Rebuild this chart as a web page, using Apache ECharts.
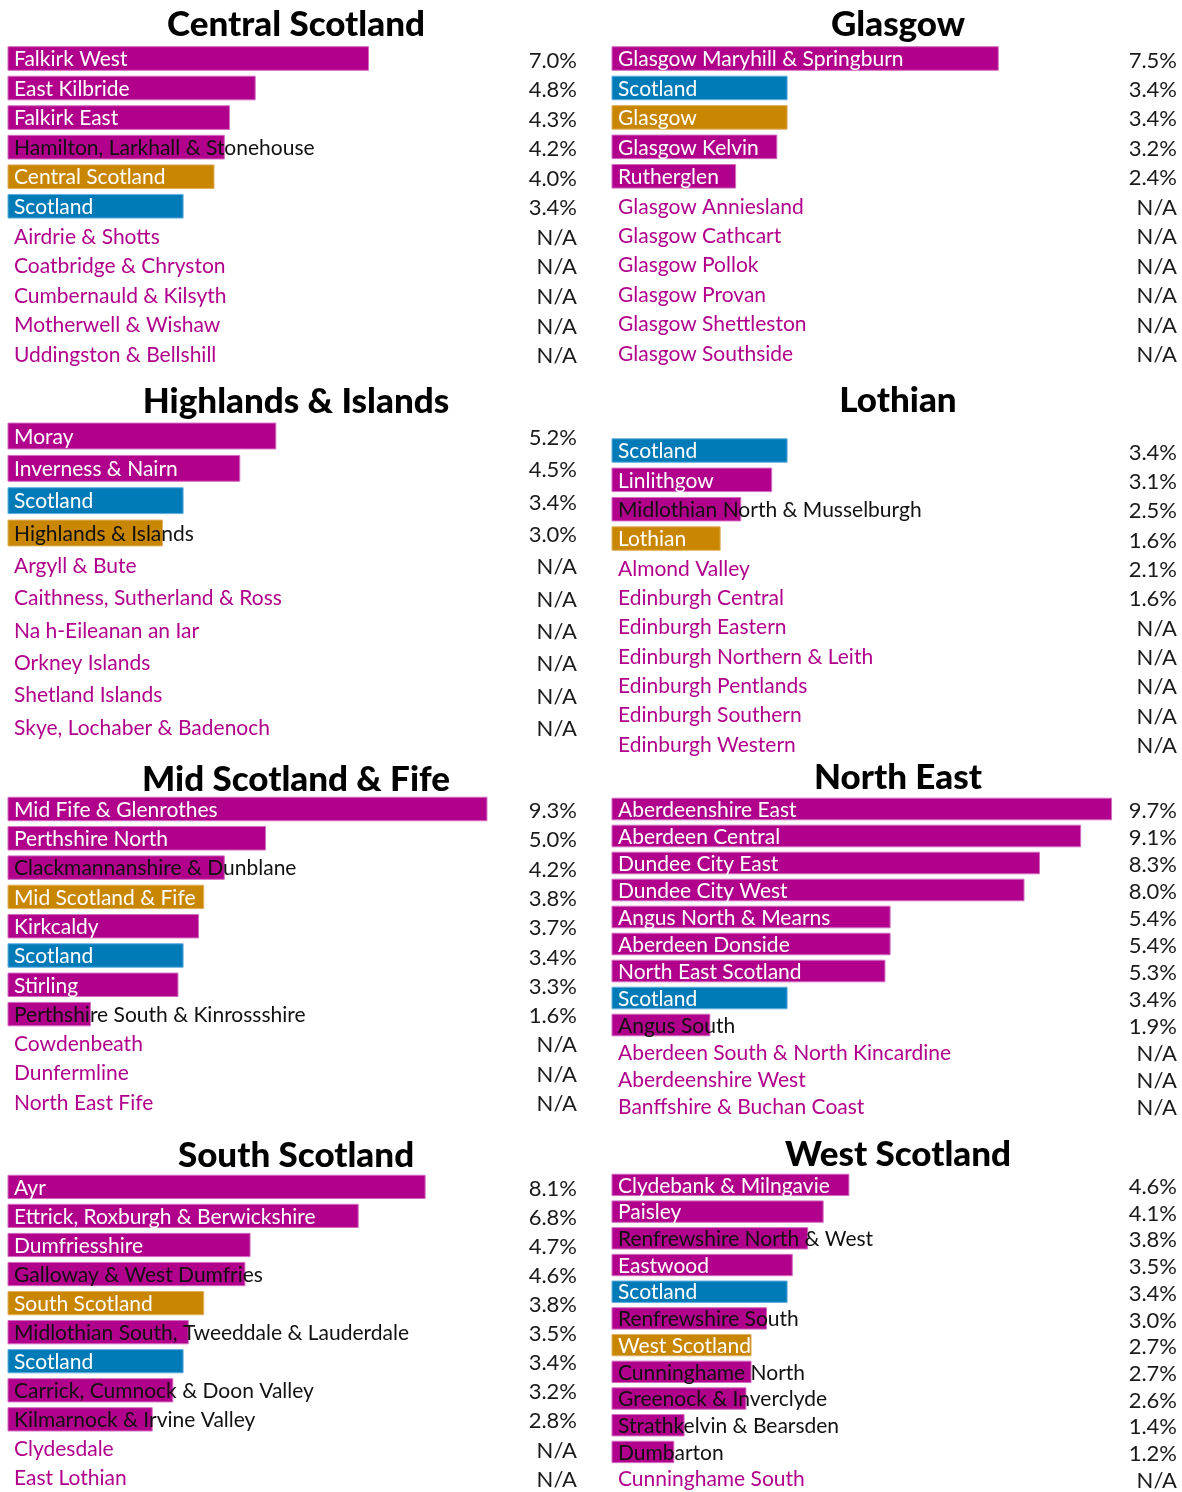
<!DOCTYPE html>
<html><head><meta charset="utf-8">
<script src="https://cdn.jsdelivr.net/npm/echarts@6/dist/echarts.min.js"></script>
<style>html,body{margin:0;padding:0;background:#fff}#c{width:1182px;height:1492px}</style>
</head><body><div id="c"></div>
<script>
// ---------- DATA ----------
const centralNames = ['Falkirk West','East Kilbride','Falkirk East','Hamilton, Larkhall & Stonehouse','Central Scotland','Scotland','Airdrie & Shotts','Coatbridge & Chryston','Cumbernauld & Kilsyth','Motherwell & Wishaw','Uddingston & Bellshill'];
const centralValues = [7.0,4.8,4.3,4.2,4.0,3.4,null,null,null,null,null];

const glasgowNames = ['Glasgow Maryhill & Springburn','Scotland','Glasgow','Glasgow Kelvin','Rutherglen','Glasgow Anniesland','Glasgow Cathcart','Glasgow Pollok','Glasgow Provan','Glasgow Shettleston','Glasgow Southside'];
const glasgowValues = [7.5,3.4,3.4,3.2,2.4,null,null,null,null,null,null];

const highlandsNames = ['Moray','Inverness & Nairn','Scotland','Highlands & Islands','Argyll & Bute','Caithness, Sutherland & Ross','Na h-Eileanan an Iar','Orkney Islands','Shetland Islands','Skye, Lochaber & Badenoch'];
const highlandsValues = [5.2,4.5,3.4,3.0,null,null,null,null,null,null];

const lothianNames = ['Scotland','Linlithgow','Midlothian North & Musselburgh','Lothian','Almond Valley','Edinburgh Central','Edinburgh Eastern','Edinburgh Northern & Leith','Edinburgh Pentlands','Edinburgh Southern','Edinburgh Western'];
const lothianValues = [3.4,3.1,2.5,1.6,2.1,1.6,null,null,null,null,null];   // printed figures
const lothianBars   = [3.4,3.1,2.5,2.1,null,null,null,null,null,null,null]; // drawn bars

const midNames = ['Mid Fife & Glenrothes','Perthshire North','Clackmannanshire & Dunblane','Mid Scotland & Fife','Kirkcaldy','Scotland','Stirling','Perthshire South & Kinrossshire','Cowdenbeath','Dunfermline','North East Fife'];
const midValues = [9.3,5.0,4.2,3.8,3.7,3.4,3.3,1.6,null,null,null];

const northEastNames = ['Aberdeenshire East','Aberdeen Central','Dundee City East','Dundee City West','Angus North & Mearns','Aberdeen Donside','North East Scotland','Scotland','Angus South','Aberdeen South & North Kincardine','Aberdeenshire West','Banffshire & Buchan Coast'];
const northEastValues = [9.7,9.1,8.3,8.0,5.4,5.4,5.3,3.4,1.9,null,null,null];

const southNames = ['Ayr','Ettrick, Roxburgh & Berwickshire','Dumfriesshire','Galloway & West Dumfries','South Scotland','Midlothian South, Tweeddale & Lauderdale','Scotland','Carrick, Cumnock & Doon Valley','Kilmarnock & Irvine Valley','Clydesdale','East Lothian'];
const southValues = [8.1,6.8,4.7,4.6,3.8,3.5,3.4,3.2,2.8,null,null];

const westNames = ['Clydebank & Milngavie','Paisley','Renfrewshire North & West','Eastwood','Scotland','Renfrewshire South','West Scotland','Cunninghame North','Greenock & Inverclyde','Strathkelvin & Bearsden','Dumbarton','Cunninghame South'];
const westValues = [4.6,4.1,3.8,3.5,3.4,3.0,2.7,2.7,2.6,1.4,1.2,null];

const panelTitles = ['Central Scotland','Glasgow','Highlands & Islands','Lothian','Mid Scotland & Fife','North East','South Scotland','West Scotland'];
const panelNames  = [centralNames, glasgowNames, highlandsNames, lothianNames, midNames, northEastNames, southNames, westNames];
const panelValues = [centralValues, glasgowValues, highlandsValues, lothianValues, midValues, northEastValues, southValues, westValues];
const panelBars   = [centralValues, glasgowValues, highlandsValues, lothianBars, midValues, northEastValues, southValues, westValues];

// ---------- LAYOUT / STYLE ----------
const MAGENTA = '#b1008b', GOLD = '#c98600', BLUE = '#007bb8';
const STROKE = {'#b1008b':'#d36ac0', '#c98600':'#e0b060', '#007bb8':'#62aee0'};
const PX = 51.5;
const COLS = [{left:8, right:577, cx:291}, {left:612, right:1177, cx:893}];
const LAYOUT = [
  {col:0, titleY:22,   firstY:58.5,  lastY:354},
  {col:1, titleY:22,   firstY:58.5,  lastY:353},
  {col:0, titleY:399,  firstY:436,   lastY:727},
  {col:1, titleY:398,  firstY:450.5, lastY:744},
  {col:0, titleY:777,  firstY:809,   lastY:1102},
  {col:1, titleY:775,  firstY:809,   lastY:1106},
  {col:0, titleY:1153, firstY:1187,  lastY:1480},
  {col:1, titleY:1152, firstY:1185,  lastY:1481}
];
const FONT_FAMILY = 'Lato';
const LABEL_FONT = 'normal 21px ' + FONT_FAMILY;
const VALUE_FONT = 'normal 22px ' + FONT_FAMILY;
const TITLE_SIZE = 35;

const mctx = document.createElement('canvas').getContext('2d');
mctx.font = LABEL_FONT;
function textW(s){ return mctx.measureText(s).width; }

const grids = [], xAxes = [], yAxes = [], series = [], titles = [];
panelTitles.forEach((title, p) => {
  const L = LAYOUT[p], C = COLS[L.col];
  const names = panelNames[p], vals = panelValues[p], bars = panelBars[p];
  const n = names.length;
  const band = (L.lastY - L.firstY) / (n - 1);
  const width = C.right - C.left;
  grids.push({left: C.left, top: L.firstY - band/2, width: width, height: band*n});
  xAxes.push({type:'value', gridIndex:p, min:0, max: width/PX, show:false});
  yAxes.push({type:'category', gridIndex:p, inverse:true, data: names.map((_,i)=>i), show:false});
  titles.push({text:title, left:C.cx, top:L.titleY - TITLE_SIZE/2 - 4, textAlign:'center',
    textStyle:{fontFamily:FONT_FAMILY, fontWeight:900, fontSize:TITLE_SIZE, color:'#000', lineHeight:TITLE_SIZE+4}});
  series.push({
    type:'custom', xAxisIndex:p, yAxisIndex:p, silent:true,
    data: names.map((_, i) => [bars[i] == null ? 0 : bars[i], i]),
    renderItem: function(params, api){
      const i = params.dataIndex;
      const cs = params.coordSys;
      const pt0 = api.coord([0, i]);
      const bh = api.size([0, 1])[1] * 0.8;
      const name = names[i];
      const color = name === 'Scotland' ? BLUE : (name === title ? GOLD : MAGENTA);
      const children = [];
      let fill = MAGENTA;
      if (bars[i] != null) {
        const x1 = api.coord([bars[i], i])[0];
        const w = x1 - pt0[0];
        children.push({type:'rect', shape:{x:pt0[0], y:pt0[1]-bh/2, width:w, height:bh},
          style:{fill:color, stroke:STROKE[color], lineWidth:1}});
        fill = (textW(name) + 6 <= w + 4) ? '#ffffff' : '#111111';
      }
      children.push({type:'text', x:pt0[0]+6, y:pt0[1]+1,
        style:{text:name, fill:fill, font:LABEL_FONT, align:'left', verticalAlign:'middle', textAlign:'left', textVerticalAlign:'middle'}});
      const v = vals[i];
      children.push({type:'text', x:cs.x+cs.width, y:pt0[1]+2,
        style:{text: v == null ? 'N/A' : v.toFixed(1) + '%', fill:'#1a1a1a', font:VALUE_FONT, align:'right', verticalAlign:'middle', textAlign:'right', textVerticalAlign:'middle'}});
      return {type:'group', children:children};
    }
  });
});

const chart = echarts.init(document.getElementById('c'), null, {renderer:'canvas'});
chart.setOption({animation:false, backgroundColor:'#fff', title:titles, grid:grids, xAxis:xAxes, yAxis:yAxes, series:series});
</script>
</body></html>
